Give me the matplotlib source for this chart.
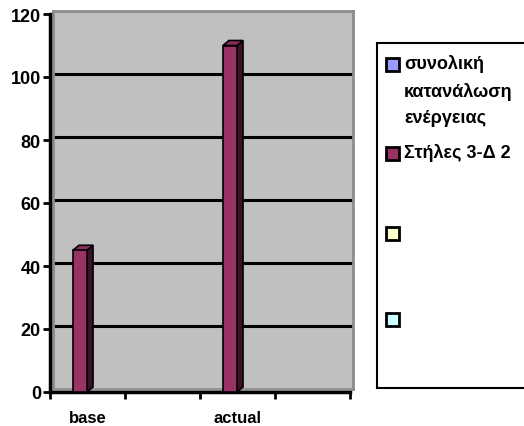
import matplotlib.pyplot as plt
from matplotlib.patches import Polygon, Rectangle

plt.rcParams['font.family'] = ['Liberation Sans', 'DejaVu Sans']
plt.rcParams['font.weight'] = 'bold'

categories = ['base', '', 'actual', '']
energy = [45, None, 110, None]
series_names = ['συνολική\nκατανάλωση\nενέργειας', 'Στήλες 3-Δ 2', '', '']
series_colors = ['#9999FF', '#993366', '#FFFFCC', '#CCFFFF']
y_ticks = [0, 20, 40, 60, 80, 100, 120]

W, H = 524, 427
fig = plt.figure(figsize=(W / 100, H / 100), dpi=100)

# axis box in pixels
x0, x1, ytop, ybot = 50, 350, 15, 393
depth = 3  # wall offset (px)
pos = [x0 / W, (H - ybot) / H, (x1 - x0) / W, (ybot - ytop) / H]

# back wall
wall = fig.add_axes([pos[0] + depth / W, pos[1] + depth / H, pos[2], pos[3]])
wall.set_facecolor('#C0C0C0')
wall.set_xlim(0, len(categories))
wall.set_ylim(0, 120)
for s in wall.spines.values():
    s.set_color('#8C8C8C')
    s.set_linewidth(2)
for v in y_ticks[1:-1]:
    wall.axhline(v, color='black', lw=2.2)
wall.set_xticks([])
wall.set_yticks([])

ax = fig.add_axes(pos)
ax.patch.set_visible(False)
ax.set_xlim(0, len(categories))
ax.set_ylim(0, 120)
for side in ['top', 'right']:
    ax.spines[side].set_visible(False)
for side in ['left', 'bottom']:
    ax.spines[side].set_linewidth(2.5)
ax.set_yticks(y_ticks)
ax.tick_params(axis='y', length=5, width=2, labelsize=13, pad=1.5)
ax.set_xticks(range(len(categories) + 1))
ax.set_xticklabels([])
ax.set_xticks([i + 0.5 for i in range(len(categories))], minor=True)
ax.set_xticklabels(categories, minor=True)
ax.tick_params(axis='x', which='major', length=5, width=2)
ax.tick_params(axis='x', which='minor', length=0, labelsize=12, pad=13)
for lbl in ax.get_yticklabels() + ax.get_xticklabels(minor=True):
    lbl.set_fontweight('bold')

px_x = len(categories) / (x1 - x0)
px_y = 120 / (ybot - ytop)

# floor strip
ax.add_patch(Polygon([(0, 0), (len(categories), 0),
                      (len(categories) + depth * px_x, depth * px_y),
                      (depth * px_x, depth * px_y)],
                     closed=True, fc='#9A9A9A', ec='none', clip_on=False, zorder=1))

# 3-D columns
bw = 0.187
off = -0.1
ddx, ddy = 6 * px_x, 5 * px_y
for i, v in enumerate(energy):
    if v is None:
        continue
    left = i + 0.5 + off - bw / 2
    right = left + bw
    ax.add_patch(Polygon([(right, 0), (right + ddx, ddy), (right + ddx, v + ddy), (right, v)],
                         closed=True, fc='#3D1028', ec='black', lw=1.2, zorder=3, clip_on=False))
    ax.add_patch(Polygon([(left, v), (right, v), (right + ddx, v + ddy), (left + ddx, v + ddy)],
                         closed=True, fc='#8A2D5C', ec='black', lw=1.2, zorder=3, clip_on=False))
    ax.add_patch(Rectangle((left, 0), bw, v, fc=series_colors[1], ec='black', lw=1.2,
                           zorder=4, clip_on=False))

# legend box
lg = fig.add_axes([377 / W, (H - 389) / H, (W + 5 - 377) / W, (389 - 44) / H])
lg.set_xlim(377, W + 5)
lg.set_ylim(389, 44)
lg.set_xticks([])
lg.set_yticks([])
for s in lg.spines.values():
    s.set_linewidth(1.5)
marker_y = [65, 154, 234.5, 320.5]
for name, col, my in zip(series_names, series_colors, marker_y):
    lg.add_patch(Rectangle((385.5, my - 6.5), 13, 13, fc=col, ec='black', lw=2))
    if name:
        lg.text(404, my - 10, name, fontsize=13, fontweight='bold', va='top', ha='left',
                linespacing=1.7)

fig.savefig('out.png', dpi=100)
